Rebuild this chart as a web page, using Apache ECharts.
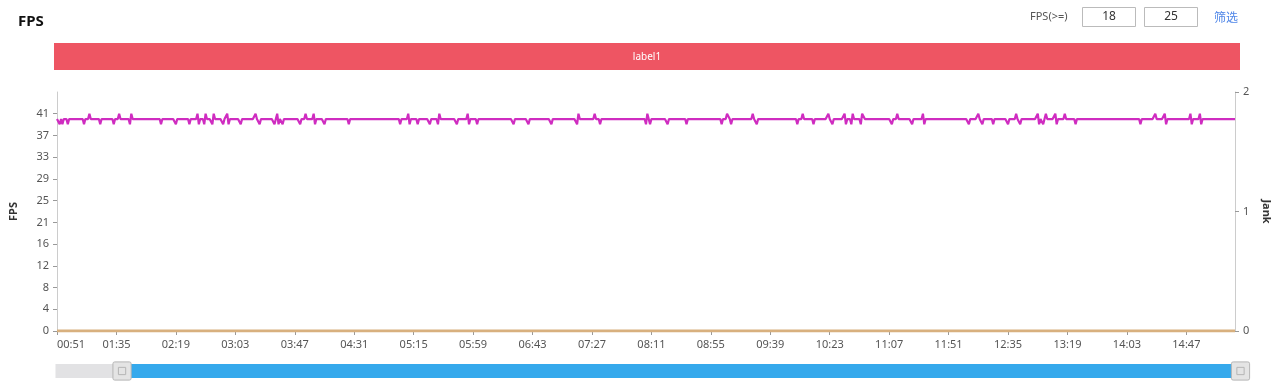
<!DOCTYPE html>
<html>
<head>
<meta charset="utf-8">
<script src="https://cdn.jsdelivr.net/npm/echarts@6/dist/echarts.min.js"></script>
<style>
html,body{margin:0;padding:0;background:#fff;}
#chart{width:1280px;height:386px;}
</style>
</head>
<body>
<div id="chart"></div>
<script>
// time categories: one per second, 00:00 .. 15:23
const startSecond = 0;
const endSecond = 923;
const firstVisibleIndex = 51;   // 00:51
const labelStep = 44;           // label every 44 s
const categories = [];
for (let s = startSecond; s <= endSecond; s++) {
  const m = Math.floor(s / 60), sec = s % 60;
  categories.push((m < 10 ? '0' : '') + m + ':' + (sec < 10 ? '0' : '') + sec);
}

const fpsValues = [
null,null,null,null,null,null,null,null,null,null, null,null,null,null,null,null,null,null,null,null,
null,null,null,null,null,null,null,null,null,null, null,null,null,null,null,null,null,null,null,null,
null,null,null,null,null,null,null,null,null,null, null,40,40,39,40,39,40,40,40,39,
40,40,40,40,40,40,40,40,40,40, 40,39,40,40,40,41,40,40,40,40,
40,40,40,39,40,40,40,40,40,40, 40,40,40,39,40,40,40,41,40,40,
40,40,40,40,40,39,41,40,40,40, 40,40,40,40,40,40,40,40,40,40,
40,40,40,40,40,40,40,40,39,40, 40,40,40,40,40,40,40,40,40,39,
40,40,40,40,40,40,40,40,40,39, 40,40,40,40,40,41,39,40,40,40,
39,41,40,40,40,40,39,41,40,40, 40,40,40,40,39,40,40,41,39,40,
40,40,40,40,40,40,40,39,40,40, 40,40,40,40,40,40,40,40,41,40,
40,39,40,40,40,40,40,40,40,40, 40,40,39,40,41,39,40,40,39,40,
40,40,40,40,40,40,40,40,40,40, 40,39,40,40,40,41,40,40,40,40,
40,41,39,40,40,40,40,40,40,39, 40,40,40,40,40,40,40,40,40,40,
40,40,40,40,40,40,40,39,40,40, 40,40,40,40,40,40,40,40,40,40,
40,40,40,40,40,40,40,40,40,40, 40,40,40,40,40,40,40,40,40,40,
40,40,40,40,40,39,40,40,40,40, 40,41,39,40,40,40,40,40,39,40,
40,40,40,40,40,40,40,39,40,40, 40,40,40,39,41,40,40,40,40,40,
40,40,40,40,40,40,40,39,40,40, 40,40,40,40,40,41,39,40,40,40,
40,40,39,40,40,40,40,40,40,40, 40,40,40,40,40,40,40,40,40,40,
40,40,40,40,40,40,40,40,40,39, 40,40,40,40,40,40,40,40,40,40,
39,40,40,40,40,40,40,40,40,40, 40,40,40,40,40,40,40,39,40,40,
40,40,40,40,40,40,40,40,40,40, 40,40,40,40,40,40,39,41,40,40,
40,40,40,40,40,40,40,40,40,41, 40,40,40,39,40,40,40,40,40,40,
40,40,40,40,40,40,40,40,40,40, 40,40,40,40,40,40,40,40,40,40,
40,40,40,40,40,40,40,39,41,41, 39,40,40,40,40,40,40,40,40,40,
40,40,40,39,40,40,40,40,40,40, 40,40,40,40,40,40,40,39,40,40,
40,40,40,40,40,40,40,40,40,40, 40,40,40,40,40,40,40,40,40,40,
40,40,40,39,40,40,40,41,41,40, 39,40,40,40,40,40,40,40,40,40,
40,40,40,40,40,40,41,40,40,39, 40,40,40,40,40,40,40,40,40,40,
40,40,40,40,40,40,40,40,40,40, 40,40,40,40,40,40,40,40,40,39,
40,40,40,41,40,40,40,40,40,40, 40,39,40,40,40,40,40,40,40,40,
40,40,41,40,40,39,40,40,40,40, 40,40,40,40,41,39,40,40,40,39,
41,40,40,40,40,40,39,41,41,40, 40,40,40,40,40,40,40,40,40,40,
40,40,40,40,40,40,40,40,40,39, 40,40,40,41,40,40,40,40,40,40,
40,40,40,40,39,40,40,40,40,40, 40,40,41,39,40,40,40,40,40,40,
40,40,40,40,40,40,40,40,40,40, 40,40,40,40,40,40,40,40,40,40,
40,40,40,40,40,40,39,40,40,40, 40,40,40,41,40,40,39,40,40,40,
40,40,40,40,39,40,40,40,40,40, 40,40,40,40,40,39,40,40,40,40,
40,41,40,40,39,40,40,40,40,40, 40,40,40,40,40,40,40,41,39,40,
40,39,40,41,40,40,40,40,40,40, 41,39,40,40,40,40,40,41,40,40,
40,40,40,40,40,39,40,40,40,40, 40,40,40,40,40,40,40,40,40,40,
40,40,40,40,40,40,40,40,40,40, 40,40,40,40,40,40,40,40,40,40,
40,40,40,40,40,40,40,40,40,40, 40,40,40,39,40,40,40,40,40,40,
40,40,40,40,41,40,40,40,40,40, 40,41,39,40,40,40,40,40,40,40,
40,40,40,40,40,40,40,40,40,40, 41,39,40,40,40,40,40,41,39,40,
40,40,40,40,40,40,40,40,40,40, 40,40,40,40,40,40,40,40,40,40,
40,40,40,40
];

const jankValues = [
null,null,null,null,null,null,null,null,null,null, null,null,null,null,null,null,null,null,null,null,
null,null,null,null,null,null,null,null,null,null, null,null,null,null,null,null,null,null,null,null,
null,null,null,null,null,null,null,null,null,null, null,0,0,0,0,0,0,0,0,0,
0,0,0,0,0,0,0,0,0,0, 0,0,0,0,0,0,0,0,0,0,
0,0,0,0,0,0,0,0,0,0, 0,0,0,0,0,0,0,0,0,0,
0,0,0,0,0,0,0,0,0,0, 0,0,0,0,0,0,0,0,0,0,
0,0,0,0,0,0,0,0,0,0, 0,0,0,0,0,0,0,0,0,0,
0,0,0,0,0,0,0,0,0,0, 0,0,0,0,0,0,0,0,0,0,
0,0,0,0,0,0,0,0,0,0, 0,0,0,0,0,0,0,0,0,0,
0,0,0,0,0,0,0,0,0,0, 0,0,0,0,0,0,0,0,0,0,
0,0,0,0,0,0,0,0,0,0, 0,0,0,0,0,0,0,0,0,0,
0,0,0,0,0,0,0,0,0,0, 0,0,0,0,0,0,0,0,0,0,
0,0,0,0,0,0,0,0,0,0, 0,0,0,0,0,0,0,0,0,0,
0,0,0,0,0,0,0,0,0,0, 0,0,0,0,0,0,0,0,0,0,
0,0,0,0,0,0,0,0,0,0, 0,0,0,0,0,0,0,0,0,0,
0,0,0,0,0,0,0,0,0,0, 0,0,0,0,0,0,0,0,0,0,
0,0,0,0,0,0,0,0,0,0, 0,0,0,0,0,0,0,0,0,0,
0,0,0,0,0,0,0,0,0,0, 0,0,0,0,0,0,0,0,0,0,
0,0,0,0,0,0,0,0,0,0, 0,0,0,0,0,0,0,0,0,0,
0,0,0,0,0,0,0,0,0,0, 0,0,0,0,0,0,0,0,0,0,
0,0,0,0,0,0,0,0,0,0, 0,0,0,0,0,0,0,0,0,0,
0,0,0,0,0,0,0,0,0,0, 0,0,0,0,0,0,0,0,0,0,
0,0,0,0,0,0,0,0,0,0, 0,0,0,0,0,0,0,0,0,0,
0,0,0,0,0,0,0,0,0,0, 0,0,0,0,0,0,0,0,0,0,
0,0,0,0,0,0,0,0,0,0, 0,0,0,0,0,0,0,0,0,0,
0,0,0,0,0,0,0,0,0,0, 0,0,0,0,0,0,0,0,0,0,
0,0,0,0,0,0,0,0,0,0, 0,0,0,0,0,0,0,0,0,0,
0,0,0,0,0,0,0,0,0,0, 0,0,0,0,0,0,0,0,0,0,
0,0,0,0,0,0,0,0,0,0, 0,0,0,0,0,0,0,0,0,0,
0,0,0,0,0,0,0,0,0,0, 0,0,0,0,0,0,0,0,0,0,
0,0,0,0,0,0,0,0,0,0, 0,0,0,0,0,0,0,0,0,0,
0,0,0,0,0,0,0,0,0,0, 0,0,0,0,0,0,0,0,0,0,
0,0,0,0,0,0,0,0,0,0, 0,0,0,0,0,0,0,0,0,0,
0,0,0,0,0,0,0,0,0,0, 0,0,0,0,0,0,0,0,0,0,
0,0,0,0,0,0,0,0,0,0, 0,0,0,0,0,0,0,0,0,0,
0,0,0,0,0,0,0,0,0,0, 0,0,0,0,0,0,0,0,0,0,
0,0,0,0,0,0,0,0,0,0, 0,0,0,0,0,0,0,0,0,0,
0,0,0,0,0,0,0,0,0,0, 0,0,0,0,0,0,0,0,0,0,
0,0,0,0,0,0,0,0,0,0, 0,0,0,0,0,0,0,0,0,0,
0,0,0,0,0,0,0,0,0,0, 0,0,0,0,0,0,0,0,0,0,
0,0,0,0,0,0,0,0,0,0, 0,0,0,0,0,0,0,0,0,0,
0,0,0,0,0,0,0,0,0,0, 0,0,0,0,0,0,0,0,0,0,
0,0,0,0,0,0,0,0,0,0, 0,0,0,0,0,0,0,0,0,0,
0,0,0,0,0,0,0,0,0,0, 0,0,0,0,0,0,0,0,0,0,
0,0,0,0,0,0,0,0,0,0, 0,0,0,0,0,0,0,0,0,0,
0,0,0,0,0,0,0,0,0,0, 0,0,0,0,0,0,0,0,0,0,
0,0,0,0
];

const fpsAxisMax = 45.1;
const fpsAxisInterval = 4.1;
const fpsThresholds = ['18', '25'];
const bandLabel = 'label1';

const chart = echarts.init(document.getElementById('chart'), null, {renderer: 'canvas'});
const labelFilter = (idx) => idx >= firstVisibleIndex && (idx - firstVisibleIndex) % labelStep === 0;

chart.setOption({
  animation: false,
  backgroundColor: '#ffffff',
  title: {
    text: 'FPS', left: 13, top: 9,
    textStyle: {fontSize: 15, fontWeight: 'bold', color: '#111', fontFamily: 'Noto Sans'}
  },
  graphic: [
    {type: 'text', left: 1030, top: 11, style: {text: 'FPS(>=)', fontSize: 11, fill: '#555', fontFamily: 'Noto Sans'}},
    {type: 'rect', shape: {x: 1082.5, y: 7.5, width: 53, height: 19}, style: {fill: '#fff', stroke: '#bbb', lineWidth: 1}},
    {type: 'text', x: 1109, y: 17, style: {text: fpsThresholds[0], fontSize: 12, fill: '#333', align: 'center', verticalAlign: 'middle', fontFamily: 'Noto Sans'}},
    {type: 'rect', shape: {x: 1144.5, y: 7.5, width: 53, height: 19}, style: {fill: '#fff', stroke: '#bbb', lineWidth: 1}},
    {type: 'text', x: 1171, y: 17, style: {text: fpsThresholds[1], fontSize: 12, fill: '#333', align: 'center', verticalAlign: 'middle', fontFamily: 'Noto Sans'}},
    {type: 'text', x: 1214, y: 17, style: {text: '筛选', fontSize: 12, fill: '#4f86e8', verticalAlign: 'middle', fontFamily: 'Noto Sans CJK SC'}},
    {type: 'rect', shape: {x: 54, y: 43, width: 1186, height: 27}, style: {fill: '#ee5563'}},
    {type: 'text', x: 647, y: 57, style: {text: bandLabel, fontSize: 10, fill: '#fff', align: 'center', verticalAlign: 'middle', fontFamily: 'Noto Sans'}}
  ],
  grid: {left: 54, right: 40, top: 92, bottom: 55, containLabel: false},
  xAxis: {
    type: 'category',
    data: categories,
    boundaryGap: false,
    axisLine: {lineStyle: {color: '#ccc'}},
    axisTick: {show: true, interval: labelFilter, lineStyle: {color: '#999'}, length: 4},
    axisLabel: {interval: labelFilter, color: '#555', fontSize: 11, margin: 8, alignMinLabel: 'left', fontFamily: 'Noto Sans'},
    splitLine: {show: false}
  },
  yAxis: [
    {
      type: 'value', min: 0, max: fpsAxisMax, interval: fpsAxisInterval,
      name: 'FPS', nameLocation: 'middle', nameGap: 38,
      nameTextStyle: {fontSize: 11, fontWeight: 'bold', color: '#333', fontFamily: 'Noto Sans'},
      axisLine: {show: true, lineStyle: {color: '#ccc'}},
      axisTick: {show: true, length: 4, lineStyle: {color: '#999'}},
      axisLabel: {color: '#555', fontSize: 11, showMaxLabel: false, formatter: v => String(Math.round(v)), fontFamily: 'Noto Sans'},
      splitLine: {show: false}
    },
    {
      type: 'value', min: 0, max: 2, interval: 1,
      name: 'Jank', nameLocation: 'middle', nameGap: 26, nameRotate: -90,
      nameTextStyle: {fontSize: 11, fontWeight: 'bold', color: '#333', fontFamily: 'Noto Sans'},
      axisLine: {show: true, lineStyle: {color: '#ccc'}},
      axisTick: {show: true, length: 4, lineStyle: {color: '#999'}},
      axisLabel: {color: '#555', fontSize: 11, fontFamily: 'Noto Sans'},
      splitLine: {show: false}
    }
  ],
  dataZoom: [{
    type: 'slider',
    xAxisIndex: 0,
    startValue: firstVisibleIndex,
    endValue: endSecond,
    left: 54, right: 40, bottom: 8, height: 14,
    showDetail: false,
    showDataShadow: false,
    brushSelect: false,
    moveHandleSize: 0,
    backgroundColor: '#e2e2e4',
    borderColor: 'transparent',
    fillerColor: '#35a9ec',
    handleIcon: 'path://M2,0 L18,0 Q20,0 20,2 L20,18 Q20,20 18,20 L2,20 Q0,20 0,18 L0,2 Q0,0 2,0 Z M6,6 L14,6 L14,14 L6,14 Z',
    handleSize: '130%',
    handleStyle: {color: '#e4e4e4', borderColor: '#b5b5b5', borderWidth: 1},
    dataBackground: {lineStyle: {opacity: 0}, areaStyle: {opacity: 0}}
  }],
  series: [
    {
      name: 'FPS', type: 'line', yAxisIndex: 0, data: fpsValues,
      showSymbol: false,
      lineStyle: {color: '#cf2cc0', width: 2.2},
      itemStyle: {color: '#cf2cc0'}, z: 3
    },
    {
      name: 'Jank', type: 'line', yAxisIndex: 1, data: jankValues,
      showSymbol: false,
      lineStyle: {color: '#d8b07e', width: 3},
      itemStyle: {color: '#d8b07e'}, z: 2
    }
  ]
});
</script>
</body>
</html>
